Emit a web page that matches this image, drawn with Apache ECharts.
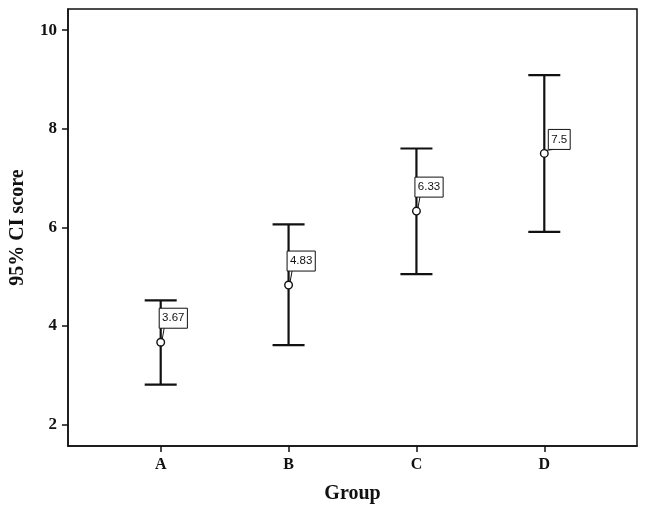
<!DOCTYPE html>
<html>
<head>
<meta charset="utf-8">
<script src="https://cdn.jsdelivr.net/npm/echarts@6/dist/echarts.min.js"></script>
<style>
  html, body { margin: 0; padding: 0; background: #fff; }
  #chart { width: 646px; height: 511px; }
</style>
</head>
<body>
<div id="chart"></div>
<script>
// data
const groups = ['A', 'B', 'C', 'D'];
const means = [3.67, 4.83, 6.33, 7.5];
const lower = [2.81, 3.61, 5.05, 5.91];
const upper = [4.52, 6.06, 7.60, 9.09];
const meanLabels = ['3.67', '4.83', '6.33', '7.5'];
const yTicks = [2, 4, 6, 8, 10];

// label box offset above the point (px), D sits lower in the original
const labelRise = [14, 14, 14, 4];

const serif = '"Liberation Serif", "Times New Roman", serif';
const sans = '"Liberation Sans", Arial, sans-serif';
const ink = '#111';

const rows = groups.map((g, i) => [i + 1, lower[i], upper[i], means[i], i]);

function renderBar(params, api) {
  const x = api.value(0);
  const lo = api.coord([x, api.value(1)]);
  const hi = api.coord([x, api.value(2)]);
  const mid = api.coord([x, api.value(3)]);
  const idx = api.value(4);
  const half = 16;
  const text = meanLabels[idx];
  const boxW = text.length * 6.3 + 3;
  const boxH = 20;
  const boxX = mid[0] + (idx === 3 ? 4 : -1.5);
  const boxBottom = mid[1] - labelRise[idx];
  const lineStyle = { stroke: ink, lineWidth: 2.2 };
  return {
    type: 'group',
    children: [
      { type: 'line', shape: { x1: lo[0], y1: lo[1], x2: hi[0], y2: hi[1] }, style: lineStyle },
      { type: 'line', shape: { x1: lo[0] - half, y1: lo[1], x2: lo[0] + half, y2: lo[1] }, style: lineStyle },
      { type: 'line', shape: { x1: hi[0] - half, y1: hi[1], x2: hi[0] + half, y2: hi[1] }, style: lineStyle },
      { type: 'circle', shape: { cx: mid[0], cy: mid[1], r: 3.8 }, style: { fill: '#fff', stroke: ink, lineWidth: 1.4 } },
      { type: 'line', shape: { x1: mid[0] + 1.5, y1: mid[1] - 3, x2: boxX + 5, y2: boxBottom }, style: { stroke: ink, lineWidth: 1 } },
      { type: 'rect', shape: { x: boxX, y: boxBottom - boxH, width: boxW, height: boxH }, style: { fill: '#fff', stroke: ink, lineWidth: 1 } },
      { type: 'text', style: { x: boxX + boxW / 2, y: boxBottom - boxH / 2, text: text, align: 'center', verticalAlign: 'middle', font: '11.5px ' + sans, fill: ink } }
    ]
  };
}

const chart = echarts.init(document.getElementById('chart'));
chart.setOption({
  animation: false,
  grid: {
    left: 66, right: 9, top: 9, bottom: 65,
    show: true, borderColor: ink, borderWidth: 1.5
  },
  xAxis: {
    type: 'value',
    min: 0.275,
    max: 4.725,
    name: 'Group',
    nameLocation: 'middle',
    nameGap: 38,
    nameTextStyle: { fontFamily: serif, fontWeight: 'bold', fontSize: 20, color: ink },
    axisLine: { show: true, lineStyle: { color: ink, width: 1.5 } },
    axisTick: { show: true, length: 6, customValues: [1, 2, 3, 4], lineStyle: { color: ink, width: 1.5 } },
    axisLabel: {
      customValues: [1, 2, 3, 4],
      margin: 11,
      formatter: v => groups[Math.round(v) - 1],
      fontFamily: serif, fontWeight: 'bold', fontSize: 16, color: ink
    },
    splitLine: { show: false }
  },
  yAxis: {
    type: 'value',
    min: 1.565,
    max: 10.43,
    name: '95% CI score',
    nameLocation: 'middle',
    nameGap: 40,
    nameTextStyle: { fontFamily: serif, fontWeight: 'bold', fontSize: 20, color: ink },
    axisLine: { show: true, lineStyle: { color: ink, width: 1.5 } },
    axisTick: { show: true, length: 6, customValues: yTicks, lineStyle: { color: ink, width: 1.5 } },
    axisLabel: {
      customValues: yTicks,
      margin: 11,
      fontFamily: serif, fontWeight: 'bold', fontSize: 17, color: ink
    },
    splitLine: { show: false }
  },
  series: [{
    type: 'custom',
    renderItem: renderBar,
    encode: { x: 0, y: [1, 2] },
    data: rows,
    clip: false
  }]
});
</script>
</body>
</html>
